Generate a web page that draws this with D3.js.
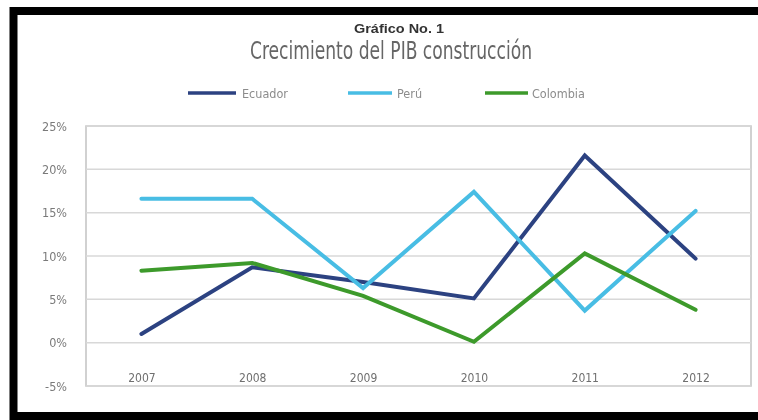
<!DOCTYPE html>
<html>
<head>
<meta charset="utf-8">
<script src="https://cdn.jsdelivr.net/npm/d3@7"></script>
<style>
  html, body { margin: 0; padding: 0; background: #fff; }
  svg { display: block; }
  .narrow { font-family: "Liberation Sans Narrow", "DejaVu Sans Condensed", "Liberation Sans", sans-serif; }
</style>
</head>
<body>
<div id="chart"></div>
<script>
const years = ['2007', '2008', '2009', '2010', '2011', '2012'];
const ecuador = [1.0, 8.7, 7.0, 5.1, 21.6, 9.7];
const peru = [16.6, 16.6, 6.3, 17.4, 3.7, 15.2];
const colombia = [8.3, 9.2, 5.4, 0.1, 10.3, 3.8];
const yTicks = [-5, 0, 5, 10, 15, 20, 25];
const seriesNames = ['Ecuador', 'Perú', 'Colombia'];

const width = 758;
const height = 420;
const margin = {top: 126, right: 7, bottom: 34, left: 86};

const color = d3.scaleOrdinal()
  .domain(seriesNames)
  .range(['#2c4281', '#48bde4', '#3d9a2b']);

const series = [
  {name: 'Ecuador', values: ecuador},
  {name: 'Perú', values: peru},
  {name: 'Colombia', values: colombia}
];

const svg = d3.select('#chart')
  .append('svg')
  .attr('width', width)
  .attr('height', height);

// soft blur, the reference is a low quality scan
const defs = svg.append('defs');
defs.append('filter').attr('id', 'soft')
  .append('feGaussianBlur').attr('stdDeviation', 0.45);

// black frame (right edge falls outside the picture)
svg.append('rect')
  .attr('x', 13.5).attr('y', 11)
  .attr('width', 800).attr('height', 405)
  .attr('fill', '#fff')
  .attr('stroke', '#000')
  .attr('stroke-width', 8);

const x = d3.scalePoint()
  .domain(years)
  .range([margin.left, width - margin.right])
  .padding(0.5);

const y = d3.scaleLinear()
  .domain([-5, 25])
  .range([height - margin.bottom, margin.top]);

// titles
svg.append('text')
  .attr('x', 399).attr('y', 33)
  .attr('text-anchor', 'middle')
  .attr('font-family', '"Liberation Sans", sans-serif')
  .attr('font-weight', 'bold')
  .attr('font-size', 13.5)
  .attr('fill', '#333')
  .attr('textLength', 90)
  .attr('lengthAdjust', 'spacingAndGlyphs')
  .attr('filter', 'url(#soft)')
  .text('Gráfico No. 1');

svg.append('text')
  .attr('class', 'narrow')
  .attr('x', 391).attr('y', 59)
  .attr('text-anchor', 'middle')
  .attr('font-size', 24)
  .attr('fill', '#666')
  .attr('textLength', 282)
  .attr('lengthAdjust', 'spacingAndGlyphs')
  .attr('filter', 'url(#soft)')
  .text('Crecimiento del PIB construcción');

// legend
const legendPos = [
  {x0: 188, x1: 236, tx: 242},
  {x0: 348, x1: 392, tx: 397},
  {x0: 485, x1: 528, tx: 532}
];
const legend = svg.append('g').attr('class', 'legend');
series.forEach((s, i) => {
  const p = legendPos[i];
  legend.append('line')
    .attr('x1', p.x0).attr('x2', p.x1)
    .attr('y1', 93).attr('y2', 93)
    .attr('stroke', color(s.name))
    .attr('stroke-width', 3.5);
  legend.append('text')
    .attr('class', 'narrow')
    .attr('x', p.tx).attr('y', 97.5)
    .attr('font-size', 12.5)
    .attr('fill', '#8c8c8c')
    .attr('filter', 'url(#soft)')
    .text(s.name);
});

// plot frame + gridlines
svg.append('rect')
  .attr('x', margin.left).attr('y', margin.top)
  .attr('width', width - margin.right - margin.left)
  .attr('height', height - margin.bottom - margin.top)
  .attr('fill', '#fff')
  .attr('stroke', '#c2c2c2')
  .attr('stroke-width', 1.5);

svg.append('g')
  .selectAll('line')
  .data(yTicks)
  .enter().append('line')
  .attr('x1', margin.left).attr('x2', width - margin.right)
  .attr('y1', d => y(d)).attr('y2', d => y(d))
  .attr('stroke', '#d8d8d8')
  .attr('stroke-width', 1.5);

// y axis labels
const yAxis = svg.append('g')
  .attr('transform', `translate(67,0)`)
  .call(d3.axisLeft(y).tickValues(yTicks).tickSize(0).tickPadding(0).tickFormat(d => d + '%'));
yAxis.select('.domain').remove();
yAxis.selectAll('text')
  .attr('class', 'narrow')
  .attr('font-size', 12.5)
  .attr('fill', '#7a7a7a')
  .attr('filter', 'url(#soft)');

// x axis labels sit inside the plot, between 0% and -5%
const xAxis = svg.append('g')
  .attr('transform', `translate(0,${y(-5) - 13})`)
  .call(d3.axisBottom(x).tickSize(0).tickPadding(0));
xAxis.select('.domain').remove();
xAxis.selectAll('text')
  .attr('class', 'narrow')
  .attr('font-size', 12)
  .attr('fill', '#6f6f6f')
  .attr('filter', 'url(#soft)');

// lines
const line = d3.line()
  .x((d, i) => x(years[i]))
  .y(d => y(d));

svg.append('g')
  .selectAll('path')
  .data(series)
  .enter().append('path')
  .attr('d', d => line(d.values))
  .attr('fill', 'none')
  .attr('stroke', d => color(d.name))
  .attr('stroke-width', 4)
  .attr('stroke-linejoin', 'miter')
  .attr('stroke-linecap', 'round');
</script>
</body>
</html>
